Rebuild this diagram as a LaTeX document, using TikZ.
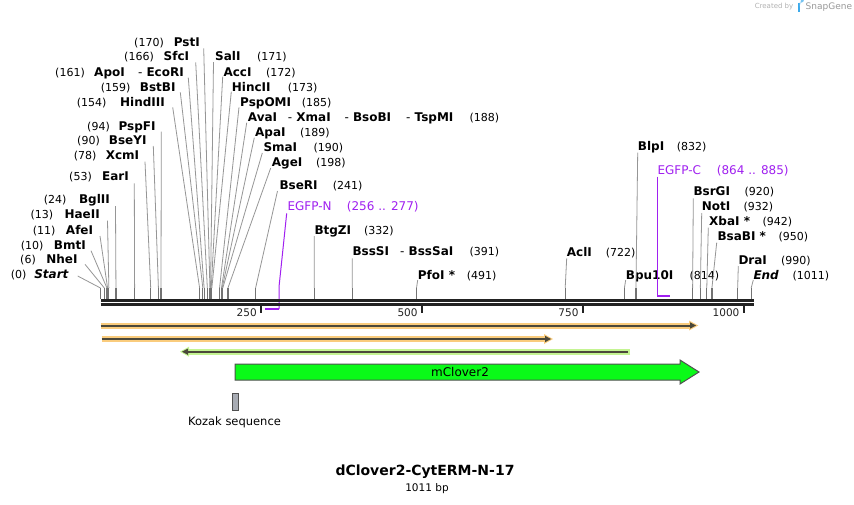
\documentclass[tikz,border=0pt]{standalone}
\usepackage{fontspec}
\setmainfont{DejaVu Sans}
\definecolor{cutgray}{RGB}{150,150,150}
\definecolor{stubgray}{RGB}{115,115,115}
\definecolor{axisdark}{RGB}{34,34,34}
\definecolor{primer}{RGB}{160,32,240}
\definecolor{orangeband}{RGB}{250,204,125}
\definecolor{greenband}{RGB}{196,244,146}
\definecolor{featline}{RGB}{75,72,58}
\definecolor{cloverfill}{RGB}{10,250,24}
\definecolor{borderdark}{RGB}{80,80,80}
\definecolor{kozakfill}{RGB}{168,172,180}
\definecolor{logoblue}{RGB}{60,170,235}
\tikzset{
  bname/.style={font=\fontsize{12}{12}\selectfont\bfseries, inner sep=0pt},
  bnum/.style={font=\fontsize{11}{11}\selectfont, inner sep=0pt},
  pname/.style={font=\fontsize{12}{12}\selectfont, text=primer, inner sep=0pt},
  cutln/.style={draw=cutgray, line width=0.8pt},
  stubln/.style={draw=stubgray, line width=1.2pt},
  primln/.style={draw=primer, line width=1pt},
  primbar/.style={draw=primer, line width=2pt},
  axisln/.style={draw=axisdark, line width=2.7pt},
  tickln/.style={draw=axisdark, line width=2pt},
  ticklab/.style={font=\fontsize{10.5}{10.5}\selectfont, text=axisdark, inner sep=0pt, anchor=base east},
  orband/.style={draw=orangeband, line width=6pt},
  grband/.style={draw=greenband, line width=6pt},
  darkln/.style={draw=featline, line width=2pt},
}
\newcommand\Lab[6]{%
  \node[bname,anchor=base east] (n#1) at (#3,#2+4) {#4};
  \node[bnum,anchor=base east] (p#1) at (#5,#2+4) {#6};}
\newcommand\Rab[6]{%
  \node[bname,anchor=base west] (n#1) at (#3,#2+4) {#4};
  \node[bnum,anchor=base west] (p#1) at (#5,#2+4) {#6};}
\newcommand\Part[4]{%
  \node[bname,anchor=base #4] (#1) at (#2,#3+4) {{\mdseries -}~#1};}
\newcommand\Cut[4]{%
  \coordinate (s#1) at (#2,#3);
  \coordinate (k#1) at ({100.5+0.6436*#4},288);
  \coordinate (a#1) at ({100.5+0.6436*#4},298.5);
  \draw[cutln] (s#1) -- (k#1);
  \draw[stubln] (k#1) -- (a#1);}
\begin{document}
\begin{tikzpicture}[x=1pt,y=-1pt]
\useasboundingbox (0,0) rectangle (854,504);
\fill[white] (0,0) rectangle (854,504);

% ---------- left-hand enzyme labels ----------
\Lab{Start}{274.7}{69}{\textit{Start}}{26.7}{(0)}
\Lab{NheI}{259.3}{77.7}{NheI}{36}{(6)}
\Lab{BmtI}{245}{86}{BmtI}{43.7}{(10)}
\Lab{AfeI}{230}{93.3}{AfeI}{55.7}{(11)}
\Lab{HaeII}{214.3}{100}{HaeII}{53.3}{(13)}
\Lab{BglII}{199.3}{110}{BglII}{66.7}{(24)}
\Lab{EarI}{176}{129}{EarI}{92}{(53)}
\Lab{XcmI}{155.3}{139.3}{XcmI}{96.7}{(78)}
\Lab{BseYI}{140}{146.7}{BseYI}{100}{(90)}
\Lab{PspFI}{126}{155.7}{PspFI}{110}{(94)}
\Lab{HindIII}{102}{165}{HindIII}{106.7}{(154)}
\Lab{BstBI}{87.3}{175.7}{BstBI}{130.7}{(159)}
\Lab{ApoI}{72.3}{125}{ApoI}{85}{(161)}
\Part{EcoRI}{184}{72.3}{east}
\Lab{SfcI}{56}{189.3}{SfcI}{154}{(166)}
\Lab{PstI}{42.3}{200}{PstI}{164}{(170)}

% ---------- right-hand enzyme labels ----------
\Rab{SalI}{56.7}{215}{SalI}{257}{(171)}
\Rab{AccI}{72.3}{223.3}{AccI}{266}{(172)}
\Rab{HincII}{87.3}{231.7}{HincII}{287.7}{(173)}
\Rab{PspOMI}{102.3}{240}{PspOMI}{301.7}{(185)}
\Rab{AvaI}{117.3}{247.7}{AvaI}{469.3}{(188)}
\Part{XmaI}{287.7}{117.3}{west}
\Part{BsoBI}{344.3}{117.3}{west}
\Part{TspMI}{406}{117.3}{west}
\Rab{ApaI}{132.3}{255}{ApaI}{300}{(189)}
\Rab{SmaI}{147.3}{263.3}{SmaI}{313.3}{(190)}
\Rab{AgeI}{162.3}{271.7}{AgeI}{316}{(198)}
\Rab{BseRI}{185}{279.3}{BseRI}{332.7}{(241)}
\Rab{BtgZI}{230}{314.3}{BtgZI}{364}{(332)}
\Rab{BssSI}{251.7}{352.3}{BssSI}{469.3}{(391)}
\Part{BssSaI}{400}{251.7}{west}
\Rab{PfoI}{275.3}{417.7}{PfoI *}{466.7}{(491)}
\Rab{AclI}{252.3}{566.7}{AclI}{605.7}{(722)}
\Rab{Bpu10I}{275}{625.7}{Bpu10I}{689.3}{(814)}
\Rab{BlpI}{146.7}{637.7}{BlpI}{676.7}{(832)}
\Rab{BsrGI}{191.7}{693.3}{BsrGI}{744.3}{(920)}
\Rab{NotI}{206.7}{701.7}{NotI}{743.3}{(932)}
\Rab{XbaI}{221.7}{709}{XbaI *}{762.3}{(942)}
\Rab{BsaBI}{236.7}{717.3}{BsaBI *}{778.3}{(950)}
\Rab{DraI}{260}{738.3}{DraI}{781}{(990)}
\Rab{End}{275}{753.3}{\textit{End}}{792.3}{(1011)}

% ---------- primer labels ----------
\node[pname,anchor=base west] (nEGFPN) at (287.3,210.7) {EGFP-N};
\node[pname,anchor=base west] (pEGFPN) at (346.7,210.7) {(256 .. 277)};
\node[pname,anchor=base west] (nEGFPC) at (657.3,174) {EGFP-C};
\node[pname,anchor=base west] (pEGFPC) at (716.7,174) {(864 .. 885)};

% ---------- cut-site lines ----------
\Cut{Start}{77.7}{276}{0}
\Cut{NheI}{85}{264.3}{6}
\Cut{BmtI}{91}{250.7}{10}
\Cut{AfeI}{100}{236}{11}
\Cut{HaeII}{107.5}{220.7}{13}
\Cut{BglII}{115.5}{206}{24}
\Cut{EarI}{134.3}{183.3}{53}
\Cut{XcmI}{145}{161.7}{78}
\Cut{BseYI}{153.3}{146}{90}
\Cut{PspFI}{161.3}{131.7}{94}
\Cut{HindIII}{172.7}{107.3}{154}
\Cut{BstBI}{180.3}{92.3}{159}
\Cut{ApoI}{188.3}{77.7}{161}
\Cut{SfcI}{195.7}{62.3}{166}
\Cut{PstI}{203.7}{48.3}{170}
\Cut{SalI}{213.5}{62}{171}
\Cut{AccI}{222.7}{76.7}{172}
\Cut{HincII}{231.3}{91.7}{173}
\Cut{PspOMI}{239}{107.3}{185}
\Cut{AvaI}{246.7}{122.7}{188}
\Cut{ApaI}{254.3}{137.7}{189}
\Cut{SmaI}{262.3}{153}{190}
\Cut{AgeI}{270.7}{168}{198}
\Cut{BseRI}{277.5}{191}{241}
\Cut{BtgZI}{314.3}{236}{332}
\Cut{BssSI}{352.3}{258.3}{391}
\Cut{PfoI}{417.7}{280}{491}
\Cut{AclI}{566.7}{258.3}{722}
\Cut{Bpu10I}{625.7}{280}{814}
\Cut{BlpI}{637.7}{152.7}{832}
\Cut{BsrGI}{693.3}{198.3}{920}
\Cut{NotI}{701.7}{213}{932}
\Cut{XbaI}{708.3}{227.7}{942}
\Cut{BsaBI}{716.7}{242.7}{950}
\Cut{DraI}{738.3}{266}{990}
\Cut{End}{753.3}{280}{1011}

% ---------- primer binding sites ----------
\coordinate (eNs) at (286.7,213.3);
\coordinate (eNk) at (279,287);
\coordinate (eNb) at (279,309);
\coordinate (eNe) at (265.3,309);
\draw[primln] (eNs) -- (eNk) -- (eNb);
\draw[primbar] (eNb) -- (eNe);
\coordinate (eCs) at (657.3,176.7);
\coordinate (eCb) at (657.3,295.5);
\coordinate (eCe) at (670,295.5);
\draw[primln] (eCs) -- (eCb);
\draw[primbar] (eCb) -- (eCe);

% ---------- sequence axis ----------
\coordinate (ax0) at (100.5,300.3);
\coordinate (ax1) at (753.5,300.3);
\coordinate (bx0) at (100.5,304.3);
\coordinate (bx1) at (753.5,304.3);
\draw[axisln] (ax0) -- (ax1);
\draw[axisln] (bx0) -- (bx1);
\foreach \p/\lab in {250/250,500/500,750/750,1000/1000}{
  \coordinate (t\p a) at ({100.5+0.6436*\p},305);
  \coordinate (t\p b) at ({100.5+0.6436*\p},312.5);
  \draw[tickln] (t\p a) -- (t\p b);
  \node[ticklab] (tl\p) at ({100.5+0.6436*\p-4.5},316) {\lab};
}

% ---------- feature row 1 (orange, forward) ----------
\coordinate (r1a) at (100.5,325.5);
\coordinate (r1b) at (690,325.5);
\draw[orband] (r1a) -- (r1b);
\fill[orangeband] (689,320.5) -- (698.3,325.5) -- (689,330.5) -- cycle;
\draw[darkln] (r1a) -- (691,325.5);
\fill[featline] (690,322.3) -- (696,325.5) -- (690,328.7) -- cycle;

% ---------- feature row 2 (orange, forward) ----------
\coordinate (r2a) at (101.5,339);
\coordinate (r2b) at (545,339);
\draw[orband] (r2a) -- (r2b);
\fill[orangeband] (544,334) -- (553,339) -- (544,344) -- cycle;
\draw[darkln] (r2a) -- (546,339);
\fill[featline] (545,335.8) -- (551,339) -- (545,342.2) -- cycle;

% ---------- feature row 3 (green, reverse) ----------
\coordinate (r3a) at (630,351.7);
\coordinate (r3b) at (188,351.7);
\draw[grband] (r3a) -- (r3b);
\fill[greenband] (189,346.7) -- (180,351.7) -- (189,356.7) -- cycle;
\draw[darkln] (628,351.7) -- (187,351.7);
\fill[featline] (188,348.5) -- (182,351.7) -- (188,354.9) -- cycle;

% ---------- mClover2 ----------
\draw[fill=cloverfill, draw=borderdark, line width=1pt]
  (235,364) -- (680,364) -- (680,360) -- (699,372) -- (680,384) -- (680,380) -- (235,380) -- cycle;
\node[font=\fontsize{12}{12}\selectfont, inner sep=0pt] (clover) at (460,372) {mClover2};

% ---------- Kozak ----------
\draw[fill=kozakfill, draw=borderdark, line width=0.8pt] (232.3,393.3) rectangle (238.7,410);
\node[font=\fontsize{11.5}{11.5}\selectfont, inner sep=0pt] (kozak) at (234.5,422.7) {Kozak sequence};

% ---------- title ----------
\node[font=\fontsize{14}{14}\selectfont\bfseries, inner sep=0pt] (title) at (425,471.7) {dClover2-CytERM-N-17};
\node[font=\fontsize{10.5}{10.5}\selectfont, inner sep=0pt] (size) at (427,488.3) {1011 bp};

% ---------- credit ----------
\node[font=\fontsize{7}{7}\selectfont, text=black!30, inner sep=0pt, anchor=east] (cred) at (793.5,7) {Created by};
\fill[logoblue] (797.5,2.5) rectangle (799.5,12);
\fill[logoblue!70] (799.5,2.5) -- (801.5,2.5) arc (90:-90:2.4) -- (799.5,7.3) -- cycle;
\node[font=\fontsize{9}{9}\selectfont, text=black!40, inner sep=0pt, anchor=west] (snap) at (805.5,7) {SnapGene};
\end{tikzpicture}
\end{document}
